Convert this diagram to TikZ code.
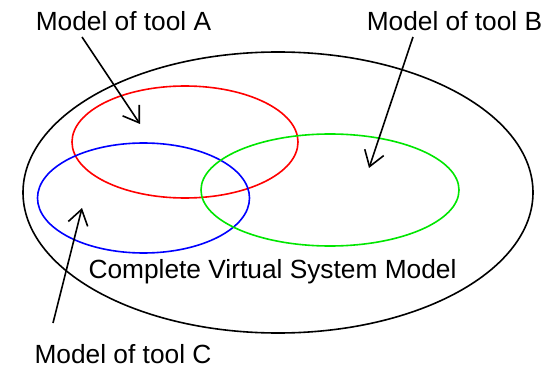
\documentclass[tikz,border=0pt]{standalone}
\usepackage{fontspec}
\setmainfont{Liberation Sans}
\usetikzlibrary{arrows.meta, positioning, shapes.geometric}
\definecolor{vmRed}{HTML}{FF0000}
\definecolor{vmBlue}{HTML}{0000FF}
\definecolor{vmGreen}{HTML}{00E600}

\begin{document}
\begin{tikzpicture}[
  x=1pt, y=-1pt,
  model/.style={draw=#1, ellipse, line width=1.6pt, inner sep=0pt, outer sep=0pt},
  arr/.style={-{Straight Barb[length=15pt, width=20pt, line width=1.6pt]}, line width=1.6pt},
  lbl/.style={font=\fontsize{26.3}{30}\selectfont, anchor=base, inner sep=0pt}
]
  \useasboundingbox (0,0) rectangle (547,369);
  % Whole system
  \node[model=black, minimum width=510pt, minimum height=281pt] (system) at (278,192.5) {};
  % Tools
  \node[model=vmRed, minimum width=226pt, minimum height=112pt] (toolA) at (185,142) {};
  \node[model=vmBlue, minimum width=212pt, minimum height=110pt] (toolC) at (143.5,198) {};
  \node[model=vmGreen, minimum width=258pt, minimum height=112pt] (toolB) at (330,190) {};

  \node[lbl] (sysname) at (272.5,278) {Complete Virtual System Model};
  \node[lbl] (nameA) at (123.5,31) {Model of tool A};
  \node[lbl] (nameB) at (454.5,31) {Model of tool B};
  \node[lbl] (nameC) at (123,363) {Model of tool C};

  \coordinate (fromA) at (82,37);
  \coordinate (atA) at (140,124);
  \coordinate (fromB) at (413,37);
  \coordinate (atB) at (369,168);
  \coordinate (fromC) at (53,323);
  \coordinate (atC) at (82,208);

  \draw[arr] (fromA) -- (atA);
  \draw[arr] (fromB) -- (atB);
  \draw[arr] (fromC) -- (atC);
\end{tikzpicture}
\end{document}
